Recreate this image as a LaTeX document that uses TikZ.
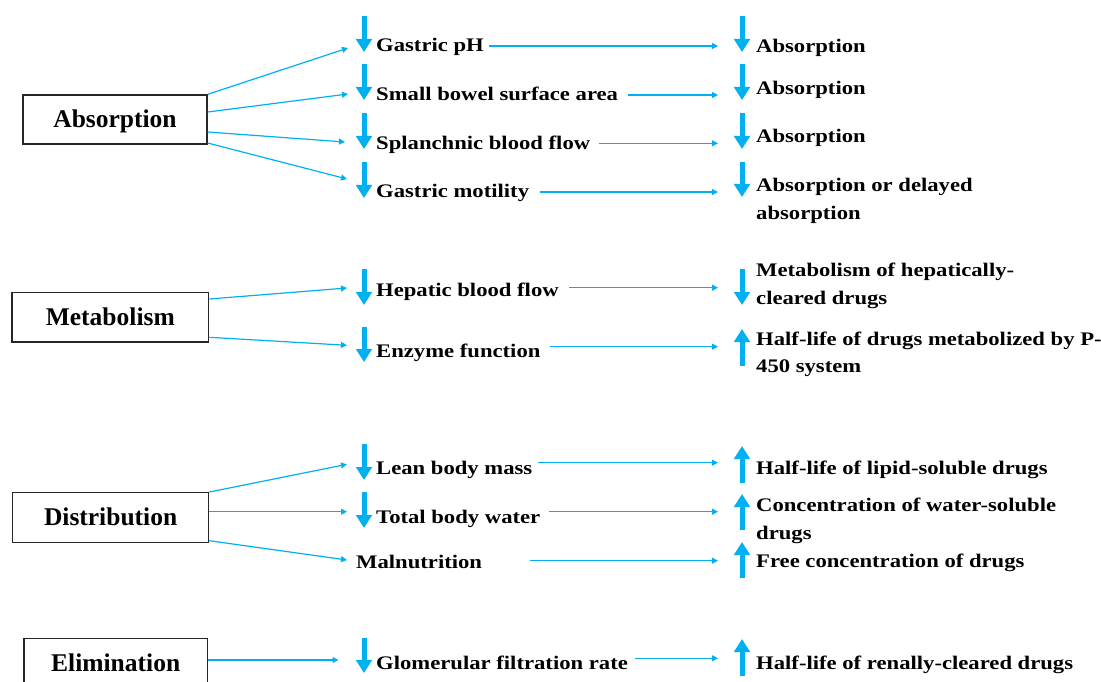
\documentclass[tikz,border=0pt]{standalone}
\usepackage{fontspec}
\setmainfont{Liberation Serif}
\newfontfamily\bodyfont{Liberation Serif}[FakeStretch=1.18]
\usetikzlibrary{arrows.meta}
\definecolor{ablue}{RGB}{0,176,240}
\tikzset{
  headbox/.style={draw=black!85, line width=1.3pt, inner sep=0pt,
    text height=22.4pt, text depth=5.6pt,
    font=\fontsize{25.5}{30}\selectfont\bfseries},
  factor/.style={anchor=base west, inner sep=0pt,
    font=\bodyfont\fontsize{19.2}{27.5}\selectfont\bfseries},
  result/.style={factor, align=left},
  conn/.style={draw=ablue, line width=1.2pt, -{Triangle[length=6pt,width=6pt]}},
  bigarrow/.style={draw=ablue, line width=5pt, -{Triangle[length=13pt,width=15.5pt]}},
}
\newcommand\bigdown[3]{\draw[bigarrow] (#1,#2) -- (#1,#3);}
\newcommand\bigup[3]{\draw[bigarrow] (#1,#3) -- (#1,#2);}
\begin{document}
\begin{tikzpicture}[x=1pt,y=-1pt]
\useasboundingbox (0,0) rectangle (1101,682);
\clip (0,0) rectangle (1101,682);
\fill[white] (0,0) rectangle (1101,682);

% heading boxes
\node[headbox, minimum width=184pt, minimum height=49pt] (abs) at (115,119.5) {Absorption};
\node[headbox, minimum width=196.7pt, minimum height=49.7pt] (met) at (110.3,317) {Metabolism};
\node[headbox, minimum width=196pt, minimum height=49.6pt] (dis) at (110.6,517.5) {Distribution};
\node[headbox, minimum width=183.7pt, minimum height=50pt] (eli) at (115.7,663.3) {Elimination};

% factors
\node[factor] (f1) at (376,52) {Gastric pH};
\node[factor] (f2) at (376,100.3) {Small bowel surface area};
\node[factor] (f3) at (376,149.3) {Splanchnic blood flow};
\node[factor] (f4) at (376,197.7) {Gastric motility};
\node[factor] (f5) at (376,296) {Hepatic blood flow};
\node[factor] (f6) at (376,357) {Enzyme function};
\node[factor] (f7) at (376,474) {Lean body mass};
\node[factor] (f8) at (376,523) {Total body water};
\node[factor] (f9) at (356,568) {Malnutrition};
\node[factor] (f10) at (376,669) {Glomerular filtration rate};

% results (base anchor = baseline of last line)
\node[result] (r1) at (756,52.7) {Absorption};
\node[result] (r2) at (756,94.3) {Absorption};
\node[result] (r3) at (756,142.7) {Absorption};
\node[result] (r4) at (756,219.3) {Absorption or delayed\\absorption};
\node[result] (r5) at (756,304.3) {Metabolism of hepatically-\\cleared drugs};
\node[result] (r6) at (756,372.7) {Half-life of drugs metabolized by P-\\450 system};
\node[result] (r7) at (756,474) {Half-life of lipid-soluble drugs};
\node[result] (r8) at (756,539) {Concentration of water-soluble\\drugs};
\node[result] (r9) at (756,567.7) {Free concentration of drugs};
\node[result] (r10) at (756,669) {Half-life of renally-cleared drugs};

% thick arrows, left column
\bigdown{364}{16}{52}
\bigdown{364}{64}{100}
\bigdown{364}{113}{149}
\bigdown{364}{162}{198}
\bigdown{364}{269}{305}
\bigdown{364}{327}{362}
\bigdown{364}{444}{480}
\bigdown{364}{492}{528}
\bigdown{364}{638}{673}
% thick arrows, right column
\bigdown{742}{16}{52}
\bigdown{742}{64}{100}
\bigdown{742}{113}{149}
\bigdown{742}{162}{197}
\bigdown{742}{269}{305}
\bigup{742}{329}{366}
\bigup{742}{446}{483}
\bigup{742}{494}{530}
\bigup{742}{542}{578}
\bigup{742}{639}{676}

% arrow end points
\coordinate (e1) at (348,48);
\coordinate (e2) at (348,94);
\coordinate (e3) at (345,142);
\coordinate (e4) at (347,179);
\coordinate (e5) at (347,288);
\coordinate (e6) at (347,345.3);
\coordinate (e7) at (347,464.3);
\coordinate (e8) at (347,511.7);
\coordinate (e9) at (347,560);
\coordinate (e10) at (338.5,660);

\coordinate (b1) at (718,46);
\coordinate (b2) at (718,95);
\coordinate (b3) at (718,143.3);
\coordinate (b4) at (718,192);
\coordinate (b5) at (718,287.7);
\coordinate (b6) at (718,346.7);
\coordinate (b7) at (718,462.7);
\coordinate (b8) at (718,511.7);
\coordinate (b9) at (718,560.7);
\coordinate (b10) at (718,658.3);

% connectors from heading boxes
\draw[conn] (abs.north east) -- (e1);
\draw[conn] ([yshift=7.5pt]abs.east) -- (e2);
\draw[conn] ([yshift=-12.5pt]abs.east) -- (e3);
\draw[conn] ([yshift=-23.5pt]abs.east) -- (e4);
\draw[conn] ([yshift=18pt]met.east) -- (e5);
\draw[conn] ([yshift=-20.3pt]met.east) -- (e6);
\draw[conn] (dis.north east) -- (e7);
\draw[conn] ([yshift=5.8pt]dis.east) -- (e8);
\draw[conn] ([yshift=-23.2pt]dis.east) -- (e9);
\draw[conn] ([yshift=3.3pt]eli.east) -- (e10);

% connectors from factors to results
\draw[conn] ([xshift=113pt,yshift=6pt]f1.base west) -- (b1);
\draw[conn] ([xshift=251.6pt,yshift=5.3pt]f2.base west) -- (b2);
\draw[conn] ([xshift=222.5pt,yshift=6pt]f3.base west) -- (b3);
\draw[conn] ([xshift=163.5pt,yshift=5.7pt]f4.base west) -- (b4);
\draw[conn] ([xshift=193pt,yshift=8.3pt]f5.base west) -- (b5);
\draw[conn] ([xshift=173.8pt,yshift=10.3pt]f6.base west) -- (b6);
\draw[conn] ([xshift=162pt,yshift=11.3pt]f7.base west) -- (b7);
\draw[conn] ([xshift=173pt,yshift=11.3pt]f8.base west) -- (b8);
\draw[conn] ([xshift=173.5pt,yshift=7.3pt]f9.base west) -- (b9);
\draw[conn] ([xshift=259pt,yshift=10.7pt]f10.base west) -- (b10);
\end{tikzpicture}
\end{document}
